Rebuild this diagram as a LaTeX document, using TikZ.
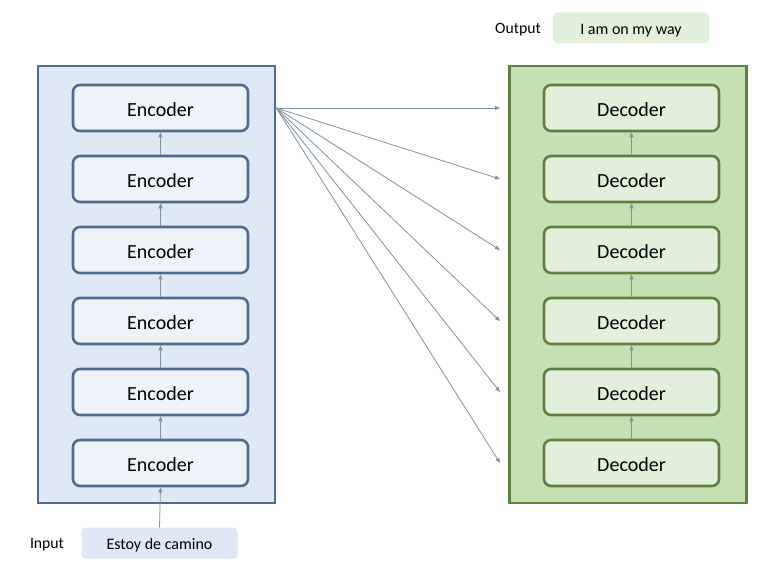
\documentclass[tikz,border=0pt]{standalone}
\usepackage{fontspec}
\setmainfont{Carlito}
\usetikzlibrary{arrows.meta}
\definecolor{encborder}{HTML}{4F6B8F}
\definecolor{encfill}{HTML}{DEE9F5}
\definecolor{encbox}{HTML}{EEF3F9}
\definecolor{decborder}{HTML}{5E8040}
\definecolor{decfill}{HTML}{C5E0B4}
\definecolor{decbox}{HTML}{E2EFDA}
\definecolor{arrowc}{HTML}{7F93A0}
\begin{document}
\begin{tikzpicture}[x=1pt,y=1pt,
  outerbox/.style={draw, line width=2.6pt, minimum width=237pt, minimum height=437pt, inner sep=0pt},
  encblock/.style={draw=encborder, fill=encbox, line width=2.6pt, rounded corners=7pt, minimum width=175pt, minimum height=46pt, text depth=0pt, text height=17pt, font=\fontsize{20}{24}\selectfont},
  decblock/.style={draw=decborder, fill=decbox, line width=2.6pt, rounded corners=7pt, minimum width=175pt, minimum height=46pt, text depth=0pt, text height=17pt, font=\fontsize{20}{24}\selectfont},
  lbl/.style={font=\fontsize{15.7}{18}\selectfont},
  tagbox/.style={rounded corners=4pt, minimum width=156pt, minimum height=31pt, text height=12.5pt, text depth=0pt, font=\fontsize{16}{19}\selectfont},
  sarrow/.style={draw=arrowc, line width=0.8pt, -{Triangle[length=5pt,width=4pt]}},
]
\useasboundingbox (0,0) rectangle (774,-572);
\fill[white] (0,0) rectangle (774,-572);
\node[outerbox, draw=encborder, fill=encfill] (encouter) at (156.5,-284.5) {};
\node[outerbox, draw=decborder, fill=decfill] (decouter) at (628,-284.5) {};
\foreach \i/\y in {1/108,2/179,3/250,4/321,5/392,6/463}{
  \node[encblock] (e\i) at (160.5,-\y) {Encoder};
  \node[decblock] (d\i) at (631.5,-\y) {Decoder};
  \coordinate (t\i) at (500,-\y);
}
\foreach \a/\b in {6/5,5/4,4/3,3/2,2/1}{
  \draw[sarrow] (e\a.north) -- (e\b.south);
  \draw[sarrow] (d\a.north) -- (d\b.south);
}
\node[tagbox, fill=encfill] (inp) at (159.5,-543) {Estoy de camino};
\node[lbl] (inlbl) at (47,-545) {Input};
\node[tagbox, fill=decbox] (outp) at (631,-28) {I am on my way};
\node[lbl] (outlbl) at (518,-30) {Output};
\draw[sarrow] (inp.north) -- (e6.south);
\coordinate (src) at (encouter.east |- e1);
\foreach \i in {1,...,6}{
  \draw[sarrow] (src) -- (t\i);
}
\end{tikzpicture}
\end{document}
